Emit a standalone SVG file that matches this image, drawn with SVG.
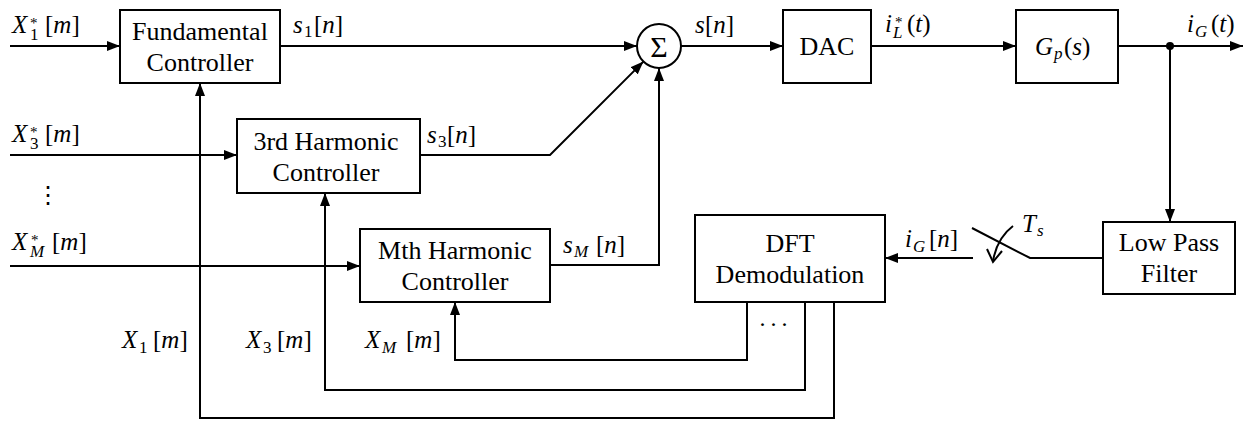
<svg xmlns="http://www.w3.org/2000/svg" width="1251" height="422" viewBox="0 0 1251 422" font-family="Liberation Serif, Times New Roman, serif">
<defs>
<marker id="ah" markerUnits="userSpaceOnUse" markerWidth="14" markerHeight="10" refX="13" refY="5" orient="auto"><path d="M0,0 L13,5 L0,10 z" fill="#000"/></marker>
</defs>
<style>
.box{fill:#fff;stroke:#000;stroke-width:2}
.w{fill:none;stroke:#000;stroke-width:2}
.a{marker-end:url(#ah)}
.t{font-size:26px;text-anchor:middle}
.m{font-size:25px}
.i{font-style:italic}
.s{font-size:17px}
.st{font-size:15px}
</style>
<rect width="1251" height="422" fill="#fff"/>
<g id="connectors">
<path class="w a" d="M10,46 H120"/>
<path class="w a" d="M10,155 H237"/>
<path class="w a" d="M10,266 H360"/>
<path class="w a" d="M280,46 H637"/>
<path class="w a" d="M420,155 H550 L643.4,61.6"/>
<path class="w a" d="M550,265 H659 V68"/>
<path class="w a" d="M681,46 H783"/>
<path class="w a" d="M871,46 H1016"/>
<path class="w a" d="M1118,46 H1243"/>
<circle cx="1170" cy="46" r="4" fill="#000"/>
<path class="w a" d="M1170,46 V222"/>
<path class="w" d="M1103,258 H1030 L972,228"/>
<path class="w a" d="M973,258 H885"/>
<path class="w" d="M1013,226 Q997,238 993,261"/>
<path class="w" d="M987,249 L993,262 L1002,251"/>
<path class="w a" d="M747,302 V360 H455 V302"/>
<path class="w a" d="M805,302 V390 H325 V193"/>
<path class="w a" d="M834,302 V418 H200 V83"/>
<text class="m"><tspan x="12" y="33" class="i">X</tspan><tspan x="30" y="28" class="st">*</tspan><tspan x="30" y="40" class="s">1</tspan><tspan x="45" y="33">[</tspan><tspan class="i">m</tspan><tspan>]</tspan></text>
<text class="m"><tspan x="12" y="142" class="i">X</tspan><tspan x="30" y="137" class="st">*</tspan><tspan x="30" y="149" class="s">3</tspan><tspan x="45" y="142">[</tspan><tspan class="i">m</tspan><tspan>]</tspan></text>
<text x="48" y="203" font-family="DejaVu Serif" font-size="24" text-anchor="middle">⋮</text>
<text class="m"><tspan x="12" y="250" class="i">X</tspan><tspan x="31" y="245" class="st">*</tspan><tspan x="30" y="257" class="s i">M</tspan><tspan x="52" y="250">[</tspan><tspan class="i">m</tspan><tspan>]</tspan></text>
<text class="m"><tspan x="122" y="348" class="i">X</tspan><tspan x="139" y="353" class="s">1</tspan><tspan x="153" y="348">[</tspan><tspan class="i">m</tspan><tspan>]</tspan></text>
<text class="m"><tspan x="246" y="348" class="i">X</tspan><tspan x="263" y="353" class="s">3</tspan><tspan x="277" y="348">[</tspan><tspan class="i">m</tspan><tspan>]</tspan></text>
<text class="m"><tspan x="365" y="348" class="i">X</tspan><tspan x="382" y="353" class="s i">M</tspan><tspan x="406" y="348">[</tspan><tspan class="i">m</tspan><tspan>]</tspan></text>
<text class="m"><tspan x="293" y="33" class="i">s</tspan><tspan x="304" y="37" class="s">1</tspan><tspan x="314" y="33">[</tspan><tspan class="i">n</tspan><tspan>]</tspan></text>
<text class="m"><tspan x="427" y="143" class="i">s</tspan><tspan x="438" y="147" class="s">3</tspan><tspan x="447" y="143">[</tspan><tspan class="i">n</tspan><tspan>]</tspan></text>
<text class="m"><tspan x="563" y="253" class="i">s</tspan><tspan x="574" y="257" class="s i">M</tspan><tspan x="596" y="253">[</tspan><tspan class="i">n</tspan><tspan>]</tspan></text>
<text class="m"><tspan x="695" y="33" class="i">s</tspan><tspan x="705" y="33">[</tspan><tspan class="i">n</tspan><tspan>]</tspan></text>
<text class="m"><tspan x="885" y="32" class="i">i</tspan><tspan x="895" y="27" class="st">*</tspan><tspan x="893" y="38" class="s i">L</tspan><tspan x="907" y="32">(</tspan><tspan class="i">t</tspan><tspan>)</tspan></text>
<text class="m"><tspan x="1187" y="32" class="i">i</tspan><tspan x="1195" y="37" class="s i">G</tspan><tspan x="1211" y="32">(</tspan><tspan class="i">t</tspan><tspan>)</tspan></text>
<text class="m"><tspan x="905" y="247" class="i">i</tspan><tspan x="913" y="252" class="s i">G</tspan><tspan x="929" y="247">[</tspan><tspan class="i">n</tspan><tspan>]</tspan></text>
<text class="m"><tspan x="1022" y="232" class="i">T</tspan><tspan x="1037" y="236" class="s i">s</tspan></text>
<text x="775" y="332" font-size="24" text-anchor="middle" letter-spacing="3">···</text>
</g>
<g id="fundamental">
<rect class="box" x="120" y="10" width="160" height="73"/>
<text class="t" x="200" y="40">Fundamental</text>
<text class="t" x="200" y="71">Controller</text>
</g>
<g id="harmonic3">
<rect class="box" x="237" y="119" width="183" height="74"/>
<text class="t" x="326" y="150">3rd Harmonic</text>
<text class="t" x="326" y="181">Controller</text>
</g>
<g id="harmonicM">
<rect class="box" x="360" y="229" width="190" height="73"/>
<text class="t" x="455" y="259">Mth Harmonic</text>
<text class="t" x="455" y="290">Controller</text>
</g>
<g id="sum">
<circle class="box" cx="659" cy="46" r="22"/>
<text x="659" y="57" font-size="30" text-anchor="middle">Σ</text>
</g>
<g id="dac">
<rect class="box" x="783" y="10" width="88" height="73"/>
<text class="t" x="827" y="55">DAC</text>
</g>
<g id="plant">
<rect class="box" x="1016" y="10" width="102" height="73"/>
<text class="m"><tspan x="1035" y="55" class="i">G</tspan><tspan x="1054" y="59" class="s i">p</tspan><tspan x="1064" y="55">(</tspan><tspan class="i">s</tspan><tspan>)</tspan></text>
</g>
<g id="dft">
<rect class="box" x="695" y="215" width="190" height="87"/>
<text class="t" x="790" y="252">DFT</text>
<text class="t" x="790" y="283">Demodulation</text>
</g>
<g id="lpf">
<rect class="box" x="1103" y="222" width="132" height="72"/>
<text class="t" x="1169" y="251">Low Pass</text>
<text class="t" x="1169" y="282">Filter</text>
</g>
</svg>
